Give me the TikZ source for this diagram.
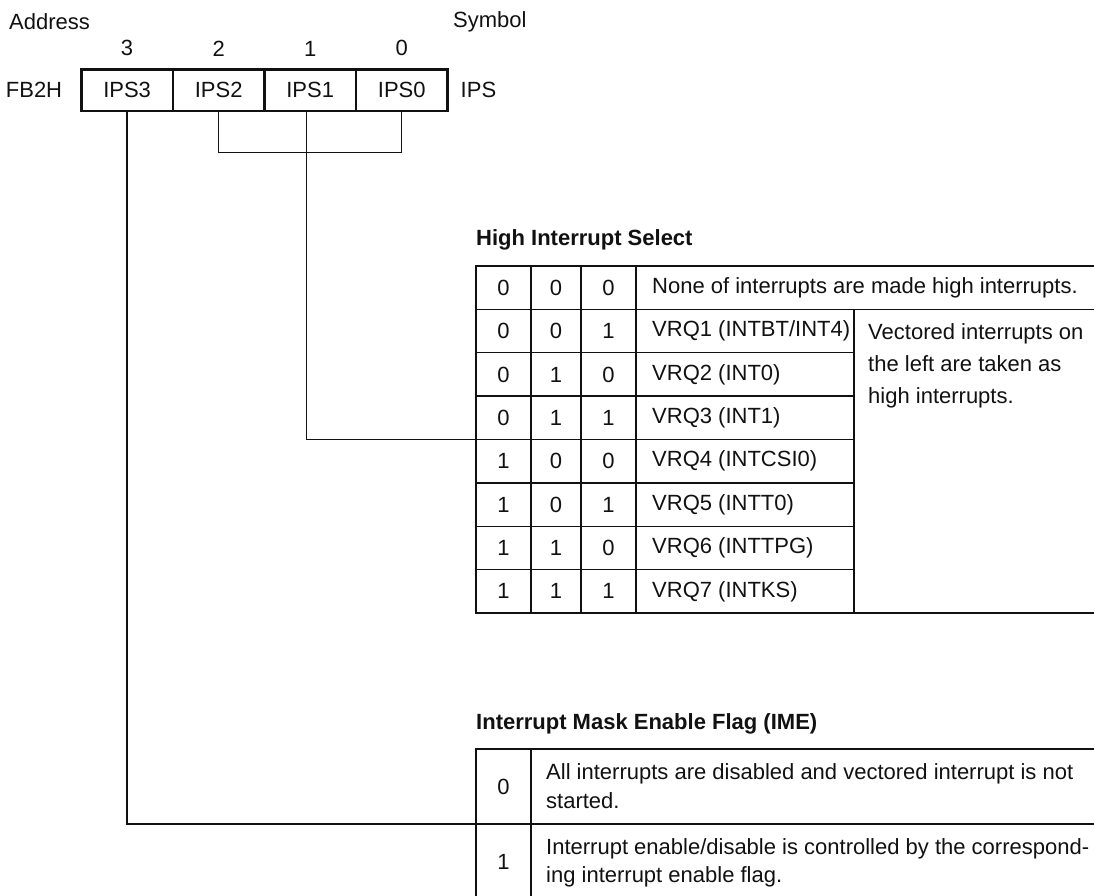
\documentclass[tikz,border=0pt]{standalone}
\usepackage{fontspec}
\setmainfont{Liberation Sans}
\usetikzlibrary{positioning,calc}
\definecolor{Ink}{HTML}{111111}

\tikzset{
  txt/.style={font=\fontsize{22}{28.5}\selectfont,inner sep=0pt,text=Ink},
  ttl/.style={font=\fontsize{22}{28.5}\selectfont\bfseries,inner sep=0pt,anchor=west,text=Ink},
  bitcell/.style={draw=Ink,line width=1.3pt,minimum width=90.25pt,minimum height=40.5pt,
    inner sep=0pt,font=\fontsize{22}{28.5}\selectfont,text=Ink},
  wire/.style={draw=Ink,line width=1.3pt},
  frame/.style={draw=Ink,line width=2.6pt}
}

\begin{document}
\begin{tikzpicture}[x=1pt,y=-1pt]
  \useasboundingbox (0,0) rectangle (1094,896);
  \clip (0,0) rectangle (1094,896);

  % register IPS
  \node[txt,anchor=west] (addr) at (9,22) {Address};
  \node[txt,anchor=west] (symb) at (453,22) {Symbol};
  \node[bitcell] (ips3) at (127.1,90.25) {IPS3};
  \node[bitcell,right=0pt of ips3] (ips2) {IPS2};
  \node[bitcell,right=0pt of ips2] (ips1) {IPS1};
  \node[bitcell,right=0pt of ips1] (ips0) {IPS0};
  \draw[frame] (ips3.north west) rectangle (ips0.south east);
  \foreach \b in {3,2,1,0}
    \node[txt,above=13pt of ips\b] (bit\b) {\b};
  \node[txt,left=19pt of ips3] (adr) {FB2H};
  \node[txt,right=13pt of ips0] (sym) {IPS};

  % high interrupt select table
  \node[ttl] (hisT) at (476,240) {High Interrupt Select};
  \def\rh{43.375}
  \draw[frame] (1100,266) -- (476,266) -- (476,613) -- (1100,613);
  \foreach \cx in {531,581,636}
    \draw[wire] (\cx,266) -- (\cx,613);
  \draw[wire] (854,266+\rh) -- (854,613);
  \draw[wire] (476,266+\rh) -- (1100,266+\rh);
  \foreach \r in {2,...,7}
    \draw[wire] (476,266+\r*\rh) -- (854,266+\r*\rh);
  \foreach \a/\b/\c [count=\i from 0] in {0/0/0,0/0/1,0/1/0,0/1/1,1/0/0,1/0/1,1/1/0,1/1/1}{
    \node[txt] at (503.5,266+\i*\rh+0.5*\rh) {\a};
    \node[txt] at (556,266+\i*\rh+0.5*\rh) {\b};
    \node[txt] at (608.5,266+\i*\rh+0.5*\rh) {\c};
  }
  \node[txt,anchor=west] (none) at (652,266+0.5*\rh) {None of interrupts are made high interrupts.};
  \foreach \v [count=\i from 1] in {VRQ1 (INTBT/INT4),VRQ2 (INT0),VRQ3 (INT1),VRQ4 (INTCSI0),
      VRQ5 (INTT0),VRQ6 (INTTPG),VRQ7 (INTKS)}
    \node[txt,anchor=west] (vrq\i) at (652,266+\i*\rh+0.5*\rh) {\v};
  \node[txt,anchor=north west,align=left,font=\fontsize{22}{32}\selectfont] (vnote) at (868,323)
    {Vectored interrupts on\\the left are taken as\\high interrupts.};
  \coordinate (selA) at (476,266+4*\rh);

  % interrupt mask enable flag table
  \node[ttl] (imeT) at (476,724) {Interrupt Mask Enable Flag (IME)};
  \draw[frame] (1100,749) -- (476,749) -- (476,900);
  \draw[wire] (531,749) -- (531,900);
  \draw[wire] (476,824) -- (1100,824);
  \node[txt] (ime0) at (503.5,786.5) {0};
  \node[txt] (ime1) at (503.5,861.5) {1};
  \node[txt,anchor=west,align=left] (imeD0) at (546,786)
    {All interrupts are disabled and vectored interrupt is not\\started.};
  \node[txt,anchor=west,align=left] (imeD1) at (546,863)
    {Interrupt enable/disable is controlled by the correspond-\\ing interrupt enable flag.};
  \coordinate (imeA) at (476,824);

  % connectors
  \draw[wire] (ips2.south) -- ++(0,41.5) -| (ips0.south);
  \draw[wire] ([xshift=-3.5pt]ips1.south) |- (selA);
  \draw[wire] (ips3.south) |- (imeA);
\end{tikzpicture}
\end{document}
